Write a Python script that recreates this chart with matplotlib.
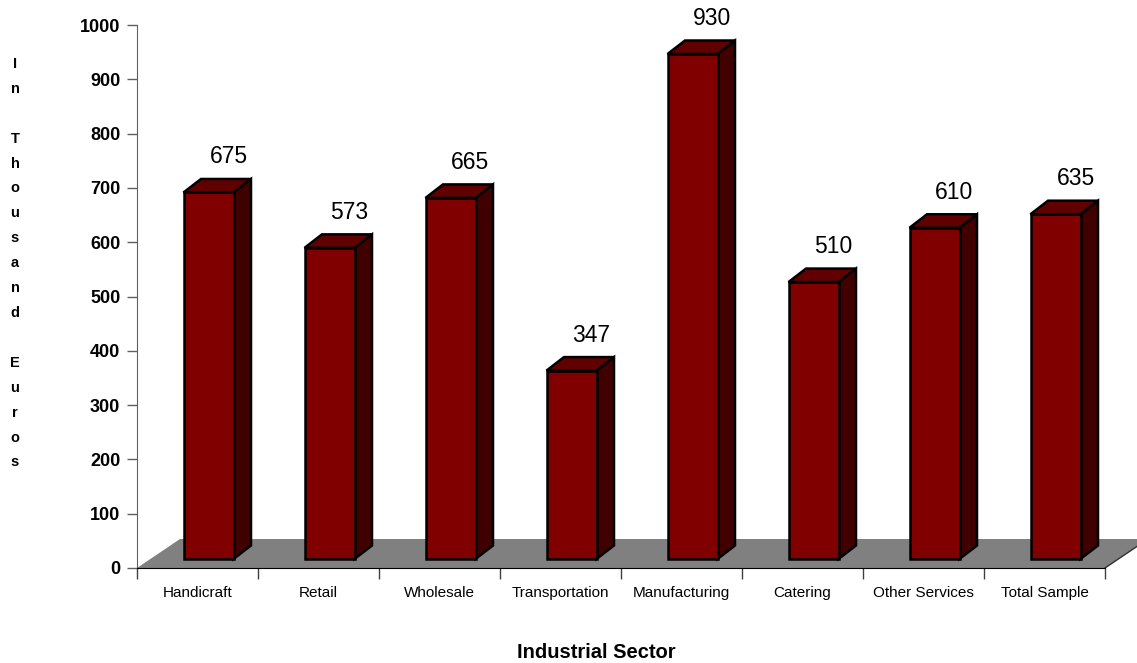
import matplotlib.pyplot as plt
from matplotlib.patches import Polygon

plt.rcParams['font.family'] = ['Liberation Sans', 'DejaVu Sans']

# Average value per sector, thousand euros
sectors = ['Handicraft', 'Retail', 'Wholesale', 'Transportation', 'Manufacturing',
           'Catering', 'Other Services', 'Total Sample']
values = [675, 573, 665, 347, 930, 510, 610, 635]

ylabel_text = 'In Thousand Euros'

W, H, DPI = 1137, 663, 100
fig = plt.figure(figsize=(W / DPI, H / DPI), dpi=DPI)
left, right, bottom, top = 137, 1105, 568, 25
ax = fig.add_axes([left / W, 1 - bottom / H, (right - left) / W, (bottom - top) / H])
ax.set_xlim(0, len(sectors))
ax.set_ylim(0, 1000)

# pixel -> data conversions for the fake 3D offsets
px_x = len(sectors) / (right - left)
px_y = 1000 / (bottom - top)

# grey floor
n = len(sectors)
fdx, fdy = 43 * px_x, 29 * px_y
floor = Polygon([(0, 0), (n, 0), (n + fdx, fdy), (fdx, fdy)],
                closed=True, facecolor='#808080', edgecolor='none', zorder=1, clip_on=False)
ax.add_patch(floor)
ax.plot([n, n + fdx], [0, fdy], color='#303030', lw=1, zorder=2, clip_on=False)

# 3D bars
bw = 50 * px_x
ddx, ddy = 17.5 * px_x, 13.5 * px_y
base = 9 * px_y
shift = 11 * px_x
for i, v in enumerate(values):
    x0 = i + 0.5 + shift - bw / 2
    x1 = x0 + bw
    y0, y1 = base, base + v
    front = Polygon([(x0, y0), (x1, y0), (x1, y1), (x0, y1)], closed=True,
                    facecolor='#800000', edgecolor='black', lw=1.8, zorder=3, clip_on=False)
    side = Polygon([(x1, y0), (x1 + ddx, y0 + ddy), (x1 + ddx, y1 + ddy), (x1, y1)], closed=True,
                   facecolor='#400000', edgecolor='black', lw=1.8, zorder=2, clip_on=False)
    cap = Polygon([(x0, y1), (x1, y1), (x1 + ddx, y1 + ddy), (x0 + ddx, y1 + ddy)], closed=True,
                  facecolor='#600000', edgecolor='black', lw=1.8, zorder=2, clip_on=False)
    for p in (side, cap, front):
        ax.add_patch(p)
    ax.text((x0 + x1) / 2 + 20 * px_x, y1 + 29 * px_y, str(v), ha='center', va='baseline',
            fontsize=16.5, color='black', zorder=5, clip_on=False)

# axes styling
for s in ('top', 'right'):
    ax.spines[s].set_visible(False)
ax.spines['left'].set_color('#606060')
ax.spines['bottom'].set_color('black')
ax.spines['left'].set_zorder(4)
ax.spines['bottom'].set_zorder(4)

ax.set_yticks(range(0, 1001, 100))
ax.tick_params(axis='y', direction='out', length=7, width=1, color='#606060', pad=5,
               labelsize=13)
for lbl in ax.get_yticklabels():
    lbl.set_fontweight('bold')

ax.set_xticks([i + 0.5 for i in range(n)])
ax.set_xticklabels(sectors)
ax.set_xticks(range(n + 1), minor=True)
ax.tick_params(axis='x', which='major', length=0, pad=13, labelsize=11)
ax.tick_params(axis='x', which='minor', direction='out', length=8, width=1, color='#404040')

ax.set_xlabel('Industrial Sector', fontsize=14.5, fontweight='bold', labelpad=0)
ax.xaxis.set_label_coords((596 - left) / (right - left), -(653 - bottom) / (bottom - top))
ax.xaxis.label.set_va('center')

# stacked letters for the y label
for k, ch in enumerate(ylabel_text):
    if ch == ' ':
        continue
    fig.text(15 / W, 1 - (64 + k * 24.9) / H, ch, ha='center', va='center',
             fontsize=10.5, fontweight='bold')

fig.savefig('out.png', dpi=DPI)
